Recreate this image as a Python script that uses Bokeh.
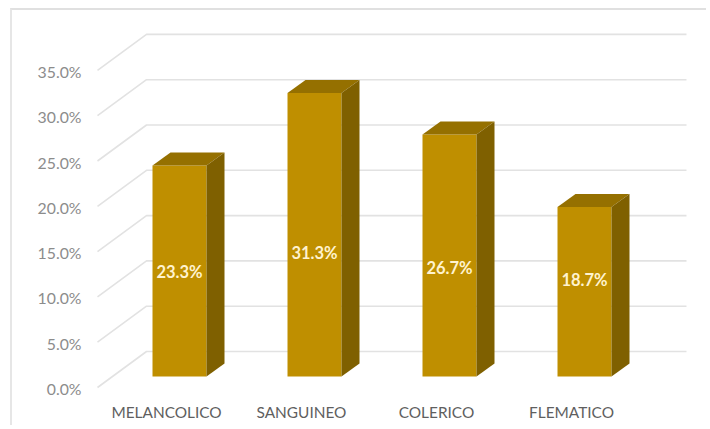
from bokeh.plotting import figure
from bokeh.models import Range1d, LinearAxis, FixedTicker
from bokeh.core.properties import value
from bokeh.embed import file_html
from bokeh.resources import INLINE

categories = ["MELANCOLICO", "SANGUINEO", "COLERICO", "FLEMATICO"]
values = [23.3, 31.3, 26.7, 18.7]
y_ticks = [0, 5, 10, 15, 20, 25, 30, 35]
label_heights = [11.5, 13.6, 12.0, 10.6]

# page geometry (window pixels)
ORIGIN_X, ORIGIN_Y = 12, 10
W, H = 696, 417
FRAME_L, FRAME_R, FRAME_T, FRAME_B = 84, 702, 12, 395
X0, XSTEP = 179, 135
Y0, YSCALE = 376, 9.06


def xd(px):
    return (px - X0) / XSTEP


def yd(py):
    return (Y0 - py) / YSCALE


HALF = 27 / XSTEP
DX = 18 / XSTEP
DY = 13 / YSCALE

p = figure(width=W, height=H, output_backend="svg", toolbar_location=None,
           x_range=Range1d(xd(FRAME_L), xd(FRAME_R)),
           y_range=Range1d(yd(FRAME_B), yd(FRAME_T)),
           min_border_left=FRAME_L - ORIGIN_X, min_border_right=ORIGIN_X + W - FRAME_R,
           min_border_top=FRAME_T - ORIGIN_Y, min_border_bottom=ORIGIN_Y + H - FRAME_B,
           x_axis_type=None, y_axis_type=None)
p.grid.visible = False
p.outline_line_color = None
p.background_fill_color = "white"
p.border_fill_color = "white"
p.styles = {"margin-left": "10px", "margin-top": "8px",
            "border-left": "2px solid #e6e6e6", "border-top": "2px solid #e0e0e0"}

# category axis, shifted left of the bars as in the reference
p.extra_x_ranges["cat"] = Range1d(xd(FRAME_L + 13), xd(FRAME_R + 13))
xa = LinearAxis(x_range_name="cat", ticker=FixedTicker(ticks=list(range(len(categories)))),
                major_label_overrides={i: c for i, c in enumerate(categories)})
xa.axis_line_color = None
xa.major_tick_line_color = None
xa.minor_tick_line_color = None
xa.major_tick_out = 0
xa.major_tick_in = 0
xa.major_label_text_font = "Lato"
xa.major_label_text_font_size = "15.4px"
xa.major_label_text_color = "#5f5f5f"
xa.major_label_standoff = 7
p.add_layout(xa, "below")

# value axis, on the front edge of the floor
p.extra_y_ranges["val"] = Range1d((388 - FRAME_B) / YSCALE, (388 - FRAME_T) / YSCALE)
ya = LinearAxis(y_range_name="val", ticker=FixedTicker(ticks=y_ticks),
                major_label_overrides={t: f"{t:.1f}%" for t in y_ticks})
ya.axis_line_color = None
ya.major_tick_line_color = None
ya.minor_tick_line_color = None
ya.major_tick_out = 0
ya.major_tick_in = 0
ya.major_label_text_font = "Lato"
ya.major_label_text_font_size = "15.8px"
ya.major_label_text_color = "#8c8c8c"
ya.major_label_standoff = 3
p.add_layout(ya, "left")

# back-wall gridlines with their slanted run to the front
x_a, x_b, x_c = xd(97), xd(146), xd(686)
back = (Y0 - 351) / YSCALE
front = (Y0 - 387) / YSCALE
p.multi_line(xs=[[x_a, x_b, x_c] for _ in y_ticks],
             ys=[[t + front, t + back, t + back] for t in y_ticks],
             line_color="#e2e2e2", line_width=1.6)

xs = list(range(len(values)))
p.quad(left=[x - HALF for x in xs], right=[x + HALF for x in xs],
       bottom=0, top=values, fill_color="#bf8f00", line_color=None)
p.patches(xs=[[x - HALF, x + HALF, x + HALF + DX, x - HALF + DX] for x in xs],
          ys=[[v, v, v + DY, v + DY] for v in values],
          fill_color="#957000", line_color=None)
p.patches(xs=[[x + HALF, x + HALF + DX, x + HALF + DX, x + HALF] for x in xs],
          ys=[[0, DY, v + DY, v] for v in values],
          fill_color="#7f6000", line_color=None)

p.text(x=xs, y=label_heights, text=[f"{v:.1f}%" for v in values],
       text_color="#fff3cf", text_font=value("Lato"), text_font_style="bold",
       text_font_size="16.5px", text_align="center", text_baseline="middle")

open("out.html", "w").write(file_html(p, INLINE))
